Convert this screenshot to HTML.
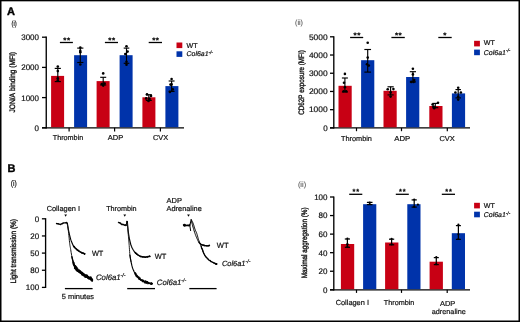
<!DOCTYPE html>
<html><head><meta charset="utf-8"><style>
html,body{margin:0;padding:0;background:#fff;}
body{width:520px;height:322px;overflow:hidden;}
svg{display:block;font-family:"Liberation Sans", sans-serif;will-change:transform;}
text{fill:#111;stroke:#111;stroke-width:0.2;font-kerning:none;}
</style></head><body>
<svg width="520" height="322" viewBox="0 0 520 322" text-rendering="geometricPrecision">
<rect x="0" y="0" width="520" height="322" fill="#fff"/>
<rect x="0" y="0" width="1.5" height="322" fill="#000"/>
<rect x="0" y="0" width="520" height="1.33" fill="#000"/>
<rect x="518.5" y="0" width="1.5" height="322" fill="#000"/>
<rect x="0" y="320.5" width="520" height="1.5" fill="#000"/>
<text x="7.1" y="15.2" font-size="11.0" font-weight="bold" style="fill:#000;stroke:#000;stroke-width:0.4">A</text>
<text x="11.6" y="26.0" font-size="7.6" textLength="5.2" lengthAdjust="spacingAndGlyphs">(i)</text>
<line x1="46.25" y1="36.6" x2="46.25" y2="128.4" stroke="#000" stroke-width="1.35"/>
<line x1="42.0" y1="127.8" x2="184" y2="127.8" stroke="#000" stroke-width="1.3"/>
<line x1="42.0" y1="127.8" x2="46.25" y2="127.8" stroke="#000" stroke-width="1.3"/>
<text x="39.0" y="130.7" font-size="8.0" text-anchor="end">0</text>
<line x1="42.0" y1="97.6" x2="46.25" y2="97.6" stroke="#000" stroke-width="1.3"/>
<text x="39.0" y="100.5" font-size="8.0" text-anchor="end">1000</text>
<line x1="42.0" y1="67.4" x2="46.25" y2="67.4" stroke="#000" stroke-width="1.3"/>
<text x="39.0" y="70.30000000000001" font-size="8.0" text-anchor="end">2000</text>
<line x1="42.0" y1="37.2" x2="46.25" y2="37.2" stroke="#000" stroke-width="1.3"/>
<text x="39.0" y="40.1" font-size="8.0" text-anchor="end">3000</text>
<line x1="69.1" y1="127.8" x2="69.1" y2="131.6" stroke="#000" stroke-width="1.2"/>
<line x1="114.6" y1="127.8" x2="114.6" y2="131.6" stroke="#000" stroke-width="1.2"/>
<line x1="160.4" y1="127.8" x2="160.4" y2="131.6" stroke="#000" stroke-width="1.2"/>
<rect x="51.099999999999994" y="75.9" width="13" height="51.3" fill="#c80014"/>
<rect x="74.1" y="55.2" width="13" height="72.0" fill="#0033aa"/>
<rect x="96.6" y="81.1" width="13" height="46.10000000000001" fill="#c80014"/>
<rect x="119.6" y="55.2" width="13" height="72.0" fill="#0033aa"/>
<rect x="142.4" y="97.3" width="13" height="29.900000000000006" fill="#c80014"/>
<rect x="165.4" y="86.1" width="13" height="41.10000000000001" fill="#0033aa"/>
<line x1="57.8" y1="68.4" x2="57.8" y2="81.6" stroke="#000" stroke-width="1.15"/>
<line x1="54.699999999999996" y1="68.4" x2="60.9" y2="68.4" stroke="#000" stroke-width="1.15"/>
<line x1="54.699999999999996" y1="81.6" x2="60.9" y2="81.6" stroke="#000" stroke-width="1.15"/>
<circle cx="57.8" cy="66.6" r="1.3" fill="#000"/>
<circle cx="57.8" cy="71.1" r="1.3" fill="#000"/>
<circle cx="57.8" cy="78.2" r="1.3" fill="#000"/>
<circle cx="57.8" cy="80.2" r="1.3" fill="#000"/>
<line x1="80.3" y1="48.1" x2="80.3" y2="62.5" stroke="#000" stroke-width="1.15"/>
<line x1="77.2" y1="48.1" x2="83.39999999999999" y2="48.1" stroke="#000" stroke-width="1.15"/>
<line x1="77.2" y1="62.5" x2="83.39999999999999" y2="62.5" stroke="#000" stroke-width="1.15"/>
<circle cx="80.3" cy="47.5" r="1.3" fill="#000"/>
<circle cx="80.3" cy="50.9" r="1.3" fill="#000"/>
<circle cx="80.3" cy="52.2" r="1.3" fill="#000"/>
<circle cx="80.3" cy="64.5" r="1.3" fill="#000"/>
<line x1="103.2" y1="77.3" x2="103.2" y2="85.0" stroke="#000" stroke-width="1.15"/>
<line x1="100.2" y1="77.3" x2="106.2" y2="77.3" stroke="#000" stroke-width="1.15"/>
<line x1="100.2" y1="85.0" x2="106.2" y2="85.0" stroke="#000" stroke-width="1.15"/>
<circle cx="103.2" cy="73.4" r="1.3" fill="#000"/>
<circle cx="101.8" cy="84.0" r="1.3" fill="#000"/>
<circle cx="104.6" cy="83.6" r="1.3" fill="#000"/>
<circle cx="103.2" cy="85.6" r="1.3" fill="#000"/>
<line x1="126.5" y1="48.1" x2="126.5" y2="63.3" stroke="#000" stroke-width="1.15"/>
<line x1="123.7" y1="48.1" x2="129.3" y2="48.1" stroke="#000" stroke-width="1.15"/>
<line x1="123.7" y1="63.3" x2="129.3" y2="63.3" stroke="#000" stroke-width="1.15"/>
<circle cx="126.5" cy="46.2" r="1.3" fill="#000"/>
<circle cx="127.6" cy="51.6" r="1.3" fill="#000"/>
<circle cx="125.3" cy="54.0" r="1.3" fill="#000"/>
<circle cx="126.5" cy="61.7" r="1.3" fill="#000"/>
<circle cx="126.5" cy="64.8" r="1.3" fill="#000"/>
<line x1="148.8" y1="94.7" x2="148.8" y2="100.4" stroke="#000" stroke-width="1.15"/>
<line x1="145.8" y1="94.7" x2="151.8" y2="94.7" stroke="#000" stroke-width="1.15"/>
<line x1="145.8" y1="100.4" x2="151.8" y2="100.4" stroke="#000" stroke-width="1.15"/>
<circle cx="147.0" cy="94.4" r="1.3" fill="#000"/>
<circle cx="151.0" cy="95.9" r="1.3" fill="#000"/>
<circle cx="146.2" cy="98.4" r="1.3" fill="#000"/>
<circle cx="149.5" cy="98.9" r="1.3" fill="#000"/>
<circle cx="148.5" cy="100.9" r="1.3" fill="#000"/>
<line x1="171.6" y1="81.0" x2="171.6" y2="91.4" stroke="#000" stroke-width="1.15"/>
<line x1="168.65" y1="81.0" x2="174.54999999999998" y2="81.0" stroke="#000" stroke-width="1.15"/>
<line x1="168.65" y1="91.4" x2="174.54999999999998" y2="91.4" stroke="#000" stroke-width="1.15"/>
<circle cx="171.6" cy="79.0" r="1.3" fill="#000"/>
<circle cx="171.6" cy="84.4" r="1.3" fill="#000"/>
<circle cx="170.5" cy="84.6" r="1.3" fill="#000"/>
<circle cx="172.8" cy="89.4" r="1.3" fill="#000"/>
<circle cx="169.9" cy="91.9" r="1.3" fill="#000"/>
<line x1="59.9" y1="42.5" x2="72.9" y2="42.5" stroke="#000" stroke-width="1.3"/>
<text x="66.9" y="43.0" font-size="8.0" text-anchor="middle" font-weight="bold" style="fill:#000;stroke:#000" letter-spacing="0.6">**</text>
<line x1="104.9" y1="42.5" x2="118.0" y2="42.5" stroke="#000" stroke-width="1.3"/>
<text x="111.95" y="43.0" font-size="8.0" text-anchor="middle" font-weight="bold" style="fill:#000;stroke:#000" letter-spacing="0.6">**</text>
<line x1="148.7" y1="42.5" x2="162.0" y2="42.5" stroke="#000" stroke-width="1.3"/>
<text x="155.85" y="43.0" font-size="8.0" text-anchor="middle" font-weight="bold" style="fill:#000;stroke:#000" letter-spacing="0.6">**</text>
<text x="68.0" y="139.7" font-size="7.2" text-anchor="middle" textLength="30.5" lengthAdjust="spacingAndGlyphs">Thrombin</text>
<text x="115.55" y="139.7" font-size="7.2" text-anchor="middle" textLength="15.5" lengthAdjust="spacingAndGlyphs">ADP</text>
<text x="160.55" y="139.7" font-size="7.2" text-anchor="middle" textLength="15.2" lengthAdjust="spacingAndGlyphs">CVX</text>
<text x="0" y="0" font-size="7.9" text-anchor="middle" textLength="60.6" lengthAdjust="spacingAndGlyphs" transform="translate(14.5,82.25) rotate(-90)" style="stroke-width:0.35">JON/A binding (MFI)</text>
<rect x="176.5" y="42.5" width="5.8" height="5.6" fill="#c80014"/>
<rect x="176.5" y="51.3" width="5.8" height="5.6" fill="#0033aa"/>
<text x="186.5" y="47.6" font-size="7.1">WT</text>
<text x="186.6" y="56.2" font-size="6.95" font-style="italic" textLength="21.9" lengthAdjust="spacingAndGlyphs">Col6a1</text>
<text x="208.5" y="53.800000000000004" font-size="4.7" font-style="italic">-/-</text>
<text x="295.1" y="25.0" font-size="7.5" style="fill:#555;stroke:#555;stroke-width:0.1" textLength="7.9" lengthAdjust="spacingAndGlyphs">(ii)</text>
<line x1="333.8" y1="36.199999999999996" x2="333.8" y2="128.5" stroke="#000" stroke-width="1.35"/>
<line x1="330.0" y1="127.9" x2="470" y2="127.9" stroke="#000" stroke-width="1.3"/>
<line x1="330.0" y1="127.9" x2="333.8" y2="127.9" stroke="#000" stroke-width="1.3"/>
<text x="327.6" y="130.70000000000002" font-size="8.0" text-anchor="end">0</text>
<line x1="330.0" y1="109.68" x2="333.8" y2="109.68" stroke="#000" stroke-width="1.3"/>
<text x="327.6" y="112.48" font-size="8.0" text-anchor="end" textLength="18.7" lengthAdjust="spacingAndGlyphs">1000</text>
<line x1="330.0" y1="91.46000000000001" x2="333.8" y2="91.46000000000001" stroke="#000" stroke-width="1.3"/>
<text x="327.6" y="94.26" font-size="8.0" text-anchor="end" textLength="18.7" lengthAdjust="spacingAndGlyphs">2000</text>
<line x1="330.0" y1="73.24000000000001" x2="333.8" y2="73.24000000000001" stroke="#000" stroke-width="1.3"/>
<text x="327.6" y="76.04" font-size="8.0" text-anchor="end" textLength="18.7" lengthAdjust="spacingAndGlyphs">3000</text>
<line x1="330.0" y1="55.02000000000001" x2="333.8" y2="55.02000000000001" stroke="#000" stroke-width="1.3"/>
<text x="327.6" y="57.82000000000001" font-size="8.0" text-anchor="end" textLength="18.7" lengthAdjust="spacingAndGlyphs">4000</text>
<line x1="330.0" y1="36.80000000000001" x2="333.8" y2="36.80000000000001" stroke="#000" stroke-width="1.3"/>
<text x="327.6" y="39.60000000000001" font-size="8.0" text-anchor="end" textLength="18.7" lengthAdjust="spacingAndGlyphs">5000</text>
<line x1="356.5" y1="127.9" x2="356.5" y2="131.2" stroke="#000" stroke-width="1.2"/>
<line x1="401.5" y1="127.9" x2="401.5" y2="131.2" stroke="#000" stroke-width="1.2"/>
<line x1="447.3" y1="127.9" x2="447.3" y2="131.2" stroke="#000" stroke-width="1.2"/>
<rect x="338.5" y="85.8" width="13.2" height="41.5" fill="#c80014"/>
<rect x="361.1" y="60.2" width="13.2" height="67.1" fill="#0033aa"/>
<rect x="383.5" y="90.8" width="13.2" height="36.5" fill="#c80014"/>
<rect x="406.1" y="77.0" width="13.2" height="50.3" fill="#0033aa"/>
<rect x="429.3" y="106.0" width="13.2" height="21.299999999999997" fill="#c80014"/>
<rect x="451.90000000000003" y="93.4" width="13.2" height="33.89999999999999" fill="#0033aa"/>
<line x1="344.9" y1="78.0" x2="344.9" y2="92.0" stroke="#000" stroke-width="1.15"/>
<line x1="341.9" y1="78.0" x2="347.9" y2="78.0" stroke="#000" stroke-width="1.15"/>
<line x1="341.9" y1="92.0" x2="347.9" y2="92.0" stroke="#000" stroke-width="1.15"/>
<circle cx="344.9" cy="73.9" r="1.3" fill="#000"/>
<circle cx="344.0" cy="82.7" r="1.3" fill="#000"/>
<circle cx="344.9" cy="87.3" r="1.3" fill="#000"/>
<circle cx="343.6" cy="91.2" r="1.3" fill="#000"/>
<circle cx="346.2" cy="91.2" r="1.3" fill="#000"/>
<line x1="367.7" y1="49.5" x2="367.7" y2="72.1" stroke="#000" stroke-width="1.15"/>
<line x1="364.34999999999997" y1="49.5" x2="371.05" y2="49.5" stroke="#000" stroke-width="1.15"/>
<line x1="364.34999999999997" y1="72.1" x2="371.05" y2="72.1" stroke="#000" stroke-width="1.15"/>
<circle cx="367.7" cy="42.7" r="1.3" fill="#000"/>
<circle cx="367.7" cy="57.6" r="1.3" fill="#000"/>
<circle cx="367.0" cy="64.3" r="1.3" fill="#000"/>
<circle cx="368.8" cy="65.6" r="1.3" fill="#000"/>
<line x1="390.6" y1="86.8" x2="390.6" y2="94.9" stroke="#000" stroke-width="1.15"/>
<line x1="387.5" y1="86.8" x2="393.70000000000005" y2="86.8" stroke="#000" stroke-width="1.15"/>
<line x1="387.5" y1="94.9" x2="393.70000000000005" y2="94.9" stroke="#000" stroke-width="1.15"/>
<circle cx="387.7" cy="89.3" r="1.3" fill="#000"/>
<circle cx="393.4" cy="89.1" r="1.3" fill="#000"/>
<circle cx="390.6" cy="92.4" r="1.3" fill="#000"/>
<circle cx="390.6" cy="96.6" r="1.3" fill="#000"/>
<line x1="412.9" y1="71.7" x2="412.9" y2="81.9" stroke="#000" stroke-width="1.15"/>
<line x1="409.79999999999995" y1="71.7" x2="416.0" y2="71.7" stroke="#000" stroke-width="1.15"/>
<line x1="409.79999999999995" y1="81.9" x2="416.0" y2="81.9" stroke="#000" stroke-width="1.15"/>
<circle cx="412.9" cy="68.8" r="1.3" fill="#000"/>
<circle cx="412.9" cy="74.4" r="1.3" fill="#000"/>
<circle cx="414.2" cy="80.0" r="1.3" fill="#000"/>
<circle cx="411.3" cy="81.9" r="1.3" fill="#000"/>
<circle cx="413.6" cy="81.9" r="1.3" fill="#000"/>
<line x1="435.3" y1="103.4" x2="435.3" y2="107.7" stroke="#000" stroke-width="1.15"/>
<line x1="432.3" y1="103.4" x2="438.3" y2="103.4" stroke="#000" stroke-width="1.15"/>
<line x1="432.3" y1="107.7" x2="438.3" y2="107.7" stroke="#000" stroke-width="1.15"/>
<circle cx="432.6" cy="104.5" r="1.3" fill="#000"/>
<circle cx="438.0" cy="102.8" r="1.3" fill="#000"/>
<circle cx="434.2" cy="108.3" r="1.3" fill="#000"/>
<circle cx="433.5" cy="106.5" r="1.3" fill="#000"/>
<line x1="458.2" y1="89.6" x2="458.2" y2="97.9" stroke="#000" stroke-width="1.15"/>
<line x1="455.45" y1="89.6" x2="460.95" y2="89.6" stroke="#000" stroke-width="1.15"/>
<line x1="455.45" y1="97.9" x2="460.95" y2="97.9" stroke="#000" stroke-width="1.15"/>
<circle cx="458.2" cy="87.8" r="1.3" fill="#000"/>
<circle cx="455.4" cy="92.5" r="1.3" fill="#000"/>
<circle cx="460.9" cy="92.5" r="1.3" fill="#000"/>
<circle cx="458.2" cy="96.8" r="1.3" fill="#000"/>
<circle cx="458.2" cy="99.6" r="1.3" fill="#000"/>
<line x1="350.1" y1="37.5" x2="363.2" y2="37.5" stroke="#000" stroke-width="1.3"/>
<text x="357.15" y="38.0" font-size="8.0" text-anchor="middle" font-weight="bold" style="fill:#000;stroke:#000" letter-spacing="0.6">**</text>
<line x1="391.4" y1="37.5" x2="404.8" y2="37.5" stroke="#000" stroke-width="1.3"/>
<text x="398.6" y="38.0" font-size="8.0" text-anchor="middle" font-weight="bold" style="fill:#000;stroke:#000" letter-spacing="0.6">**</text>
<line x1="438.3" y1="37.5" x2="451.7" y2="37.5" stroke="#000" stroke-width="1.3"/>
<text x="445.2" y="38.0" font-size="8.0" text-anchor="middle" font-weight="bold" style="fill:#000;stroke:#000" letter-spacing="0.6">*</text>
<text x="356.45" y="140.6" font-size="7.2" text-anchor="middle" textLength="30.9" lengthAdjust="spacingAndGlyphs">Thrombin</text>
<text x="402.25" y="140.8" font-size="7.2" text-anchor="middle" textLength="16.0" lengthAdjust="spacingAndGlyphs">ADP</text>
<text x="447.05" y="140.8" font-size="7.2" text-anchor="middle" textLength="15.3" lengthAdjust="spacingAndGlyphs">CVX</text>
<text x="0" y="0" font-size="7.9" text-anchor="middle" textLength="64.6" lengthAdjust="spacingAndGlyphs" transform="translate(304.0,82.55) rotate(-90)" style="stroke-width:0.35">CD62P exposure (MFI)</text>
<rect x="474.1" y="40.8" width="5.8" height="5.6" fill="#c80014"/>
<rect x="474.1" y="49.6" width="5.8" height="5.6" fill="#0033aa"/>
<text x="483.7" y="45.2" font-size="7.1">WT</text>
<text x="483.8" y="54.5" font-size="7.0" font-style="italic" textLength="22.1" lengthAdjust="spacingAndGlyphs">Col6a1</text>
<text x="505.90000000000003" y="52.0" font-size="4.7" font-style="italic">-/-</text>
<text x="7.4" y="171.5" font-size="11.0" font-weight="bold" style="fill:#000;stroke:#000;stroke-width:0.4">B</text>
<text x="10.7" y="185.8" font-size="7.8" textLength="6.0" lengthAdjust="spacingAndGlyphs">(i)</text>
<line x1="45.6" y1="218.20000000000002" x2="45.6" y2="288.0" stroke="#000" stroke-width="1.35"/>
<line x1="41.9" y1="218.8" x2="45.6" y2="218.8" stroke="#000" stroke-width="1.3"/>
<text x="39.2" y="221.70000000000002" font-size="8.0" text-anchor="end">0</text>
<line x1="41.9" y1="235.95" x2="45.6" y2="235.95" stroke="#000" stroke-width="1.3"/>
<text x="39.2" y="238.85" font-size="8.0" text-anchor="end">20</text>
<line x1="41.9" y1="253.1" x2="45.6" y2="253.1" stroke="#000" stroke-width="1.3"/>
<text x="39.2" y="256.0" font-size="8.0" text-anchor="end">50</text>
<line x1="41.9" y1="270.25" x2="45.6" y2="270.25" stroke="#000" stroke-width="1.3"/>
<text x="39.2" y="273.15" font-size="8.0" text-anchor="end">80</text>
<line x1="41.9" y1="287.4" x2="45.6" y2="287.4" stroke="#000" stroke-width="1.3"/>
<text x="39.2" y="290.29999999999995" font-size="8.0" text-anchor="end">100</text>
<text x="0" y="0" font-size="7.9" text-anchor="middle" textLength="64.5" lengthAdjust="spacingAndGlyphs" transform="translate(16.4,251.2) rotate(-90)" style="stroke-width:0.35">Light transmission (%)</text>
<text x="63.35" y="210.8" font-size="7.3" text-anchor="middle" textLength="33.4" lengthAdjust="spacingAndGlyphs">Collagen I</text>
<text x="121.4" y="210.8" font-size="7.2" text-anchor="middle" textLength="30.5" lengthAdjust="spacingAndGlyphs">Thrombin</text>
<text x="166.6" y="202.5" font-size="7.3" textLength="15.4" lengthAdjust="spacingAndGlyphs">ADP</text>
<text x="166.6" y="210.9" font-size="7.3" textLength="35.2" lengthAdjust="spacingAndGlyphs">Adrenaline</text>
<path d="M64.30000000000001,214.4 L67.0,214.4 L65.65,216.7 Z" fill="#000"/>
<path d="M123.4,214.4 L126.1,214.4 L124.75,216.7 Z" fill="#000"/>
<path d="M187.15,214.4 L189.85,214.4 L188.5,216.7 Z" fill="#000"/>
<line x1="64.9" y1="288.6" x2="92.6" y2="288.6" stroke="#000" stroke-width="1.3"/>
<line x1="127.2" y1="288.6" x2="155.0" y2="288.6" stroke="#000" stroke-width="1.3"/>
<line x1="189.3" y1="288.6" x2="216.6" y2="288.6" stroke="#000" stroke-width="1.3"/>
<text x="77.9" y="298.6" font-size="7.4" text-anchor="middle" textLength="32.3" lengthAdjust="spacingAndGlyphs">5 minutes</text>
<path d="M56.46,223.46 L56.87,223.79 L57.29,223.64 L57.88,223.94 L58.48,223.66 L59.00,224.41 L59.45,224.00 L59.95,224.40 L60.23,224.12 L60.63,224.71 L61.10,223.97 L61.35,224.18 L61.84,223.65 L62.13,223.97 L62.51,223.12 L62.79,223.58 L63.25,222.81 L63.72,223.08 L64.28,222.75 L65.02,223.06 L65.58,222.59 L65.95,222.84 L66.38,222.29 L66.54,223.12 L66.93,222.60 L67.10,223.22 L67.19,223.09 L67.32,223.80 L67.42,223.27" fill="none" stroke="#000" stroke-width="1.2" stroke-linejoin="round" stroke-linecap="round"/>
<path d="M67.40,223.50 L67.54,224.33 L67.72,225.47 L67.94,226.83 L68.18,228.29 L68.44,229.75 L68.70,231.10 L68.98,232.40 L69.28,233.75 L69.60,235.09 L69.92,236.39 L70.22,237.57 L70.50,238.60 L70.74,239.44 L70.95,240.11 L71.15,240.68 L71.35,241.20 L71.56,241.72 L71.80,242.30 L72.05,242.93 L72.31,243.58 L72.58,244.23 L72.88,244.87 L73.21,245.49 L73.60,246.10 L74.05,246.69 L74.57,247.28 L75.12,247.85 L75.70,248.40 L76.26,248.92 L76.80,249.40 L77.30,249.83 L77.79,250.23 L78.26,250.59 L78.75,250.94 L79.26,251.27 L79.80,251.60 L80.42,251.94 L81.10,252.27 L81.81,252.60 L82.50,252.90 L83.11,253.17 L83.60,253.40 L83.96,253.58 L84.24,253.71 L84.44,253.81 L84.59,253.89 L84.70,253.95 L84.80,254.00" fill="none" stroke="#000" stroke-width="1.15" stroke-linejoin="round" stroke-linecap="round"/>
<path d="M73.49,246.05 L73.96,247.01 L74.38,246.47 L74.97,248.11 L75.54,248.06 L76.17,249.04 L76.67,249.09 L77.27,250.36 L77.79,249.85 L78.31,250.92 L78.85,250.40 L79.23,251.68 L79.68,251.62 L80.34,252.06 L80.97,252.17 L81.70,253.14 L82.53,252.81 L83.04,253.34 L83.69,253.01 L83.96,253.90 L84.19,253.56 L84.53,254.34 L84.59,253.80 L84.71,253.62 L84.90,253.58" fill="none" stroke="#000" stroke-width="1.3" stroke-linejoin="round" stroke-linecap="round"/>
<path d="M67.40,224.30 L67.54,225.30 L67.75,226.69 L67.99,228.33 L68.24,230.10 L68.49,231.90 L68.70,233.60 L68.89,235.29 L69.06,237.07 L69.23,238.88 L69.39,240.63 L69.55,242.23 L69.70,243.60 L69.84,244.66 L69.96,245.45 L70.08,246.10 L70.20,246.73 L70.33,247.45 L70.50,248.40 L70.70,249.62 L70.92,251.04 L71.16,252.55 L71.41,254.07 L71.66,255.52 L71.90,256.80 L72.15,257.96 L72.42,259.08 L72.69,260.12 L72.94,261.05 L73.15,261.82 L73.30,262.40" fill="none" stroke="#111" stroke-width="1.0" stroke-linejoin="round" stroke-linecap="round"/>
<path d="M71.90,256.80 L72.05,257.43 L72.26,258.30 L72.51,259.34 L72.78,260.43 L73.05,261.48 L73.30,262.40 L73.53,263.20 L73.74,263.96 L73.96,264.67 L74.18,265.36 L74.43,266.00 L74.70,266.60 L74.99,267.14 L75.27,267.61 L75.58,268.04 L75.92,268.47 L76.32,268.91 L76.80,269.40 L77.38,269.95 L78.04,270.54 L78.77,271.15 L79.52,271.76 L80.28,272.35 L81.00,272.90 L81.70,273.42 L82.40,273.91 L83.10,274.39 L83.80,274.84 L84.50,275.28 L85.20,275.70 L85.91,276.09 L86.64,276.45 L87.38,276.79 L88.09,277.13 L88.77,277.46 L89.40,277.80 L90.00,278.17 L90.60,278.58 L91.16,278.98 L91.67,279.36 L92.09,279.67 L92.40,279.90" fill="none" stroke="#000" stroke-width="1.4" stroke-linejoin="round" stroke-linecap="round"/>
<path d="M73.14,262.19 L73.38,264.05 L73.31,262.80 L73.73,262.94 L73.79,262.53 L73.57,264.35 L73.45,263.48 L74.17,265.53 L74.27,263.94 L73.91,265.35 L74.01,264.39 L74.55,265.78 L74.55,265.60 L74.85,267.53 L74.87,266.25 L74.71,268.38 L75.26,265.74 L75.21,268.19 L74.94,267.71 L75.08,268.23 L75.76,266.78 L75.33,268.67 L76.03,266.55 L75.82,269.24 L76.24,268.18 L76.03,269.84 L76.22,268.96 L76.49,270.42 L76.86,267.63 L77.04,270.73 L77.31,269.41 L77.23,271.13 L77.63,269.66 L78.03,270.82 L78.49,270.37 L78.60,271.92 L79.27,270.14 L79.69,272.04 L79.81,270.68 L80.03,272.83 L80.37,271.14 L80.99,272.37 L81.04,271.96 L81.05,273.56 L81.32,273.42 L82.09,274.82 L81.97,272.81 L82.75,274.87 L82.61,272.77 L83.42,275.61 L83.18,273.64 L83.50,275.25 L84.15,274.34 L83.98,275.53 L84.68,275.70 L85.09,277.04 L84.94,275.89 L85.35,276.37 L85.76,275.14 L85.89,276.95 L86.48,275.63 L86.87,277.17 L86.78,275.14 L87.10,277.25 L87.40,275.62 L88.02,278.21 L88.13,276.61 L88.32,277.68 L88.57,276.98 L89.31,278.43 L89.40,277.38 L89.49,278.25 L90.07,277.58 L90.46,279.01 L90.64,277.13 L90.61,279.32 L91.05,277.33 L91.30,280.37 L91.32,278.81 L91.32,280.24 L91.64,279.73 L92.22,280.77 L92.00,279.16 L92.05,280.84 L92.24,279.31" fill="none" stroke="#000" stroke-width="1.6" stroke-linejoin="round" stroke-linecap="round"/>
<path d="M74.55,265.55 L74.69,267.58 L74.91,266.33 L74.89,268.02 L74.97,266.87 L75.12,267.78 L75.64,267.54 L75.94,268.79 L75.95,267.35 L76.55,269.05 L76.25,267.74 L77.04,270.04 L76.89,268.44 L77.44,271.09 L77.84,268.79 L78.28,271.42 L78.35,270.58 L78.74,271.73 L79.46,270.73 L79.79,272.35 L80.21,271.11 L80.71,272.84 L80.74,272.22 L81.52,273.49 L81.76,272.00 L82.13,274.53 L82.61,273.26 L82.70,274.65 L83.33,274.01 L83.41,274.92 L84.16,274.10 L84.45,275.64 L85.05,275.15 L85.49,277.03 L85.78,274.99 L85.95,276.75 L86.20,276.48 L86.56,277.31 L87.37,276.04 L87.80,277.73 L87.95,277.59 L88.04,277.56 L88.49,277.04 L88.95,279.07 L89.60,277.51 L89.98,279.01 L89.98,277.53 L90.69,278.86 L90.57,278.70 L90.77,279.56 L91.16,279.47 L91.59,279.03 L92.06,279.25 L92.13,280.99 L92.38,279.39 L92.54,280.47" fill="none" stroke="#000" stroke-width="1.3" stroke-linejoin="round" stroke-linecap="round"/>
<path d="M118.44,222.33 L119.00,222.79 L119.35,222.57 L120.13,223.23 L120.52,222.92 L120.80,223.80 L121.25,223.99 L121.72,224.48 L121.91,224.19 L122.41,224.60 L122.98,224.26 L123.55,224.76 L123.96,224.67 L124.46,225.26 L125.23,224.76 L125.91,225.46 L126.17,225.25" fill="none" stroke="#000" stroke-width="1.3" stroke-linejoin="round" stroke-linecap="round"/>
<path d="M126.2,225.4 L126.9,220.9 L127.4,222.4" fill="none" stroke="#000" stroke-width="1.0" stroke-linejoin="round" stroke-linecap="round"/>
<path d="M127.30,221.50 L127.40,222.64 L127.54,224.24 L127.71,226.12 L127.90,228.13 L128.10,230.07 L128.30,231.80 L128.50,233.33 L128.71,234.79 L128.93,236.21 L129.17,237.57 L129.42,238.90 L129.70,240.20 L129.99,241.46 L130.30,242.69 L130.62,243.87 L130.97,245.02 L131.36,246.13 L131.80,247.20 L132.29,248.24 L132.84,249.27 L133.42,250.25 L134.03,251.18 L134.66,252.03 L135.30,252.80 L135.95,253.47 L136.62,254.06 L137.31,254.58 L138.02,255.03 L138.75,255.43 L139.50,255.80 L140.27,256.13 L141.06,256.40 L141.86,256.63 L142.69,256.81 L143.53,256.93 L144.40,257.00 L145.36,256.99 L146.42,256.88 L147.51,256.73 L148.52,256.55 L149.38,256.40 L150.00,256.30" fill="none" stroke="#000" stroke-width="1.2" stroke-linejoin="round" stroke-linecap="round"/>
<path d="M135.41,252.47 L135.56,253.37 L136.27,253.26 L136.74,254.35 L137.51,254.23 L138.03,255.10 L138.83,255.35 L139.54,256.04 L140.15,256.06 L140.76,256.76 L141.55,256.44 L142.25,257.09 L142.84,256.56 L143.63,257.07 L144.42,256.87 L145.32,257.43 L146.20,256.70 L147.16,257.21 L147.91,256.35 L148.77,256.67 L149.53,256.01 L149.96,256.55" fill="none" stroke="#000" stroke-width="1.3" stroke-linejoin="round" stroke-linecap="round"/>
<path d="M127.30,223.40 L127.49,225.62 L127.77,228.76 L128.09,232.45 L128.43,236.30 L128.74,239.95 L129.00,243.00 L129.19,245.50 L129.35,247.77 L129.49,249.82 L129.61,251.69 L129.75,253.41 L129.90,255.00 L130.08,256.48 L130.29,257.81 L130.51,259.00 L130.71,260.02 L130.88,260.86 L131.00,261.50" fill="none" stroke="#1a1a1a" stroke-width="0.95" stroke-linejoin="round" stroke-linecap="round"/>
<path d="M129.90,255.00 L130.01,255.71 L130.17,256.69 L130.35,257.84 L130.56,259.09 L130.78,260.34 L131.00,261.50 L131.23,262.60 L131.47,263.73 L131.73,264.85 L132.00,265.95 L132.29,267.01 L132.60,268.00 L132.93,268.92 L133.27,269.79 L133.63,270.62 L134.01,271.41 L134.40,272.17 L134.80,272.90 L135.21,273.61 L135.64,274.29 L136.08,274.93 L136.54,275.55 L137.01,276.14 L137.50,276.70 L138.01,277.23 L138.54,277.73 L139.08,278.21 L139.64,278.66 L140.21,279.09 L140.80,279.50 L141.40,279.90 L142.03,280.28 L142.67,280.64 L143.31,280.98 L143.96,281.30 L144.60,281.60 L145.23,281.88 L145.87,282.14 L146.50,282.38 L147.13,282.60 L147.77,282.81 L148.40,283.00 L149.08,283.18 L149.81,283.34 L150.54,283.49 L151.21,283.61 L151.79,283.72 L152.20,283.80" fill="none" stroke="#000" stroke-width="1.15" stroke-linejoin="round" stroke-linecap="round"/>
<path d="M134.89,272.74 L134.93,272.93 L135.33,273.03 L135.13,274.10 L135.37,272.91 L135.56,274.72 L136.03,273.99 L136.05,276.06 L136.27,275.44 L136.92,276.61 L137.10,275.47 L137.09,277.10 L137.63,276.36 L137.69,277.12 L137.84,277.01 L138.50,278.01 L138.77,277.08 L138.97,278.87 L138.85,277.25 L139.20,279.33 L139.84,278.00 L140.06,279.36 L139.98,279.07 L140.63,279.96 L140.72,279.54 L140.98,280.25 L141.31,280.04 L141.93,280.70 L142.26,280.13 L142.58,281.61 L142.61,279.98 L143.21,281.25 L143.47,280.53 L143.69,281.07 L143.87,280.91 L144.13,282.02 L144.47,281.75 L144.83,282.66 L145.43,281.03 L145.34,282.65 L145.97,281.70 L146.24,283.20 L146.63,281.56 L146.99,282.73 L147.17,282.17 L147.32,282.85 L147.59,281.81 L148.03,283.63 L148.40,282.83 L148.98,282.93 L149.06,282.81 L149.20,283.07 L149.61,283.43 L150.40,283.77 L150.72,282.98 L151.11,284.31 L151.26,283.08 L151.33,284.26 L151.66,283.03 L151.77,283.99 L152.29,283.43" fill="none" stroke="#000" stroke-width="1.5" stroke-linejoin="round" stroke-linecap="round"/>
<ellipse cx="184.5" cy="225.2" rx="1.4" ry="1.45" fill="#000"/>
<path d="M183.48,224.81 L183.53,225.05 L184.04,225.19 L184.31,225.54 L184.75,225.04 L185.14,225.66 L185.69,225.21 L185.96,225.72 L186.27,225.08 L186.77,225.71 L187.18,225.61 L187.45,225.61 L187.89,224.92 L188.44,225.80 L189.01,225.07 L189.37,225.74 L189.72,224.78" fill="none" stroke="#000" stroke-width="1.3" stroke-linejoin="round" stroke-linecap="round"/>
<path d="M189.8,225.3 L190.6,230.6" fill="none" stroke="#000" stroke-width="1.0" stroke-linejoin="round" stroke-linecap="round"/>
<path d="M189.8,225.3 L191.2,219.8" fill="none" stroke="#000" stroke-width="1.1" stroke-linejoin="round" stroke-linecap="round"/>
<path d="M191.20,219.80 L191.39,220.59 L191.64,221.69 L191.95,222.98 L192.29,224.38 L192.64,225.79 L193.00,227.10 L193.37,228.37 L193.78,229.70 L194.20,231.03 L194.62,232.32 L195.03,233.53 L195.40,234.60 L195.74,235.52 L196.05,236.33 L196.34,237.06 L196.63,237.72 L196.91,238.36 L197.20,239.00 L197.48,239.64 L197.75,240.26 L198.01,240.84 L198.29,241.40 L198.58,241.92 L198.90,242.40 L199.25,242.84 L199.62,243.24 L200.01,243.60 L200.42,243.93 L200.85,244.23 L201.30,244.50 L201.78,244.74 L202.29,244.94 L202.81,245.11 L203.35,245.26 L203.88,245.39 L204.40,245.50 L204.92,245.60 L205.44,245.67 L205.96,245.72 L206.47,245.76 L206.95,245.79 L207.40,245.80 L207.83,245.79 L208.24,245.76 L208.64,245.72 L208.99,245.67 L209.28,245.63 L209.50,245.60" fill="none" stroke="#000" stroke-width="1.0" stroke-linejoin="round" stroke-linecap="round"/>
<path d="M198.99,242.02 L199.24,242.82 L199.58,242.77 L199.97,243.46 L200.34,243.53 L200.77,244.30 L201.30,244.39 L201.82,245.12 L202.19,244.71 L202.88,245.18 L203.37,244.96 L203.86,245.54 L204.38,245.12 L204.82,245.88 L205.44,245.55 L205.95,245.63 L206.46,245.75 L206.87,246.07 L207.40,245.69 L207.88,246.04 L208.25,245.56 L208.73,245.82 L209.06,245.30 L209.22,245.75 L209.50,245.33" fill="none" stroke="#000" stroke-width="1.3" stroke-linejoin="round" stroke-linecap="round"/>
<path d="M191.40,219.90 L191.60,220.27 L191.87,220.76 L192.19,221.36 L192.54,222.03 L192.88,222.75 L193.20,223.50 L193.49,224.32 L193.77,225.23 L194.04,226.19 L194.32,227.16 L194.61,228.11 L194.90,229.00 L195.21,229.82 L195.54,230.59 L195.87,231.34 L196.20,232.08 L196.51,232.83 L196.80,233.60 L197.06,234.41 L197.30,235.24 L197.53,236.08 L197.75,236.91 L197.97,237.73 L198.20,238.50 L198.43,239.23 L198.66,239.91 L198.88,240.58 L199.11,241.24 L199.35,241.91 L199.60,242.60 L199.85,243.28 L200.09,243.93 L200.34,244.59 L200.62,245.29 L200.93,246.08 L201.30,247.00 L201.73,248.10 L202.21,249.38 L202.73,250.74 L203.28,252.10 L203.84,253.38 L204.40,254.50 L204.97,255.46 L205.57,256.32 L206.17,257.11 L206.79,257.82 L207.40,258.48 L208.00,259.10 L208.58,259.66 L209.15,260.14 L209.72,260.56 L210.29,260.95 L210.88,261.32 L211.50,261.70 L212.18,262.09 L212.94,262.47 L213.71,262.83 L214.44,263.17 L215.09,263.46 L215.60,263.70 L215.96,263.88 L216.20,264.00 L216.36,264.07 L216.46,264.13 L216.53,264.16 L216.60,264.20" fill="none" stroke="#000" stroke-width="1.0" stroke-linejoin="round" stroke-linecap="round"/>
<path d="M201.36,246.63 L201.54,248.02 L202.17,248.83 L202.69,250.30 L203.15,251.79 L203.82,253.57 L204.33,254.19 L205.01,255.88 L205.49,256.29 L206.20,257.39 L206.81,257.39 L207.32,258.75 L208.06,258.87 L208.69,259.75 L209.14,260.18 L209.77,260.69 L210.32,260.52 L210.90,261.58 L211.40,261.59 L212.21,262.02 L212.86,262.31 L213.74,263.02 L214.36,263.00 L215.03,263.62 L215.63,263.45 L215.88,264.21 L216.12,263.82 L216.43,264.29 L216.35,263.93 L216.54,264.25 L216.69,263.82" fill="none" stroke="#000" stroke-width="1.3" stroke-linejoin="round" stroke-linecap="round"/>
<circle cx="216.4" cy="264.1" r="1.0" fill="#000"/>
<text x="91.9" y="256.0" font-size="7.5" textLength="11.4" lengthAdjust="spacingAndGlyphs">WT</text>
<text x="96.0" y="280.2" font-size="7.9" font-style="italic" textLength="24.6" lengthAdjust="spacingAndGlyphs">Col6a1</text>
<text x="120.6" y="277.3" font-size="5.3" font-style="italic">-/-</text>
<text x="154.7" y="259.2" font-size="7.5" textLength="11.6" lengthAdjust="spacingAndGlyphs">WT</text>
<text x="156.8" y="284.7" font-size="7.8" font-style="italic" textLength="24.5" lengthAdjust="spacingAndGlyphs">Col6a1</text>
<text x="181.3" y="281.7" font-size="5.2" font-style="italic">-/-</text>
<text x="216.8" y="248.3" font-size="7.5" textLength="11.8" lengthAdjust="spacingAndGlyphs">WT</text>
<text x="221.9" y="266.2" font-size="7.5" font-style="italic" textLength="23.6" lengthAdjust="spacingAndGlyphs">Col6a1</text>
<text x="245.5" y="263.2" font-size="5.2" font-style="italic">-/-</text>
<text x="297.9" y="186.6" font-size="7.5" style="fill:#555;stroke:#555;stroke-width:0.1" textLength="8.2" lengthAdjust="spacingAndGlyphs">(ii)</text>
<line x1="333.8" y1="196.4" x2="333.8" y2="290.40000000000003" stroke="#000" stroke-width="1.35"/>
<line x1="330.0" y1="289.8" x2="470" y2="289.8" stroke="#000" stroke-width="1.3"/>
<line x1="330.0" y1="289.8" x2="333.8" y2="289.8" stroke="#000" stroke-width="1.3"/>
<text x="327.5" y="292.7" font-size="8.0" text-anchor="end">0</text>
<line x1="330.0" y1="271.24" x2="333.8" y2="271.24" stroke="#000" stroke-width="1.3"/>
<text x="327.5" y="274.14" font-size="8.0" text-anchor="end">20</text>
<line x1="330.0" y1="252.68" x2="333.8" y2="252.68" stroke="#000" stroke-width="1.3"/>
<text x="327.5" y="255.58" font-size="8.0" text-anchor="end">40</text>
<line x1="330.0" y1="234.12" x2="333.8" y2="234.12" stroke="#000" stroke-width="1.3"/>
<text x="327.5" y="237.02" font-size="8.0" text-anchor="end">60</text>
<line x1="330.0" y1="215.56" x2="333.8" y2="215.56" stroke="#000" stroke-width="1.3"/>
<text x="327.5" y="218.46" font-size="8.0" text-anchor="end">80</text>
<line x1="330.0" y1="197.0" x2="333.8" y2="197.0" stroke="#000" stroke-width="1.3"/>
<text x="327.5" y="199.9" font-size="8.0" text-anchor="end">100</text>
<line x1="356.5" y1="289.8" x2="356.5" y2="292.9" stroke="#000" stroke-width="1.2"/>
<line x1="401.5" y1="289.8" x2="401.5" y2="292.9" stroke="#000" stroke-width="1.2"/>
<line x1="447.2" y1="289.8" x2="447.2" y2="292.9" stroke="#000" stroke-width="1.2"/>
<rect x="340.9" y="244.0" width="13.3" height="45.19999999999999" fill="#c80014"/>
<rect x="363.1" y="204.2" width="13.2" height="85.0" fill="#0033aa"/>
<rect x="385.1" y="242.5" width="13.3" height="46.69999999999999" fill="#c80014"/>
<rect x="407.3" y="204.2" width="13.2" height="85.0" fill="#0033aa"/>
<rect x="429.6" y="261.7" width="13.3" height="27.5" fill="#c80014"/>
<rect x="451.8" y="233.2" width="13.2" height="56.0" fill="#0033aa"/>
<line x1="347.4" y1="239.0" x2="347.4" y2="247.3" stroke="#000" stroke-width="1.25"/>
<line x1="344.79999999999995" y1="239.0" x2="350.0" y2="239.0" stroke="#000" stroke-width="1.25"/>
<line x1="344.79999999999995" y1="247.3" x2="350.0" y2="247.3" stroke="#000" stroke-width="1.25"/>
<circle cx="347.4" cy="238.6" r="1.1" fill="#000"/>
<circle cx="347.4" cy="244.2" r="1.2" fill="#000"/>
<circle cx="347.4" cy="246.6" r="1.1" fill="#000"/>
<line x1="369.7" y1="202.4" x2="369.7" y2="204.6" stroke="#000" stroke-width="1.25"/>
<line x1="366.9" y1="202.4" x2="372.5" y2="202.4" stroke="#000" stroke-width="1.25"/>
<line x1="366.9" y1="204.6" x2="372.5" y2="204.6" stroke="#000" stroke-width="1.25"/>
<circle cx="369.7" cy="202.6" r="1.2" fill="#000"/>
<line x1="391.6" y1="239.2" x2="391.6" y2="244.8" stroke="#000" stroke-width="1.25"/>
<line x1="389.0" y1="239.2" x2="394.20000000000005" y2="239.2" stroke="#000" stroke-width="1.25"/>
<line x1="389.0" y1="244.8" x2="394.20000000000005" y2="244.8" stroke="#000" stroke-width="1.25"/>
<circle cx="391.6" cy="238.8" r="1.1" fill="#000"/>
<circle cx="391.6" cy="244.4" r="1.1" fill="#000"/>
<line x1="414.2" y1="199.9" x2="414.2" y2="207.1" stroke="#000" stroke-width="1.25"/>
<line x1="411.59999999999997" y1="199.9" x2="416.8" y2="199.9" stroke="#000" stroke-width="1.25"/>
<line x1="411.59999999999997" y1="207.1" x2="416.8" y2="207.1" stroke="#000" stroke-width="1.25"/>
<circle cx="414.2" cy="199.5" r="1.1" fill="#000"/>
<circle cx="417.9" cy="204.6" r="1.1" fill="#000"/>
<circle cx="414.2" cy="206.8" r="1.1" fill="#000"/>
<line x1="436.3" y1="257.6" x2="436.3" y2="264.6" stroke="#000" stroke-width="1.25"/>
<line x1="433.8" y1="257.6" x2="438.8" y2="257.6" stroke="#000" stroke-width="1.25"/>
<line x1="433.8" y1="264.6" x2="438.8" y2="264.6" stroke="#000" stroke-width="1.25"/>
<circle cx="436.3" cy="257.2" r="1.1" fill="#000"/>
<circle cx="436.3" cy="264.2" r="1.1" fill="#000"/>
<line x1="458.4" y1="225.6" x2="458.4" y2="239.4" stroke="#000" stroke-width="1.25"/>
<line x1="455.9" y1="225.6" x2="460.9" y2="225.6" stroke="#000" stroke-width="1.25"/>
<line x1="455.9" y1="239.4" x2="460.9" y2="239.4" stroke="#000" stroke-width="1.25"/>
<circle cx="458.4" cy="224.6" r="1.1" fill="#000"/>
<circle cx="458.4" cy="234.3" r="1.1" fill="#000"/>
<circle cx="458.4" cy="239.0" r="1.0" fill="#000"/>
<line x1="349.2" y1="194.3" x2="362.3" y2="194.3" stroke="#000" stroke-width="1.3"/>
<text x="356.3" y="193.7" font-size="7.4" text-anchor="middle" font-weight="bold" style="fill:#000;stroke:#000" letter-spacing="0.9">**</text>
<line x1="395.8" y1="194.3" x2="408.8" y2="194.3" stroke="#000" stroke-width="1.3"/>
<text x="402.85" y="193.7" font-size="7.4" text-anchor="middle" font-weight="bold" style="fill:#000;stroke:#000" letter-spacing="0.9">**</text>
<line x1="441.8" y1="194.3" x2="455.0" y2="194.3" stroke="#000" stroke-width="1.3"/>
<text x="448.95" y="193.7" font-size="7.4" text-anchor="middle" font-weight="bold" style="fill:#000;stroke:#000" letter-spacing="0.9">**</text>
<text x="352.3" y="305.4" font-size="7.4" text-anchor="middle" textLength="33.3" lengthAdjust="spacingAndGlyphs">Collagen I</text>
<text x="399.1" y="305.4" font-size="7.2" text-anchor="middle" textLength="30.5" lengthAdjust="spacingAndGlyphs">Thrombin</text>
<text x="447.6" y="305.5" font-size="7.3" text-anchor="middle" textLength="15.3" lengthAdjust="spacingAndGlyphs">ADP</text>
<text x="448.75" y="313.5" font-size="7.2" text-anchor="middle" textLength="34.0" lengthAdjust="spacingAndGlyphs">adrenaline</text>
<text x="0" y="0" font-size="7.9" text-anchor="middle" textLength="71.0" lengthAdjust="spacingAndGlyphs" transform="translate(307.0,242.85) rotate(-90)" style="stroke-width:0.35">Maximal aggregation (%)</text>
<rect x="474.1" y="202.8" width="5.8" height="5.6" fill="#c80014"/>
<rect x="474.1" y="211.7" width="5.8" height="5.6" fill="#0033aa"/>
<text x="483.7" y="207.6" font-size="7.1">WT</text>
<text x="483.8" y="216.8" font-size="7.0" font-style="italic" textLength="22.0" lengthAdjust="spacingAndGlyphs">Col6a1</text>
<text x="505.8" y="214.5" font-size="4.7" font-style="italic">-/-</text>
</svg>
</body></html>
